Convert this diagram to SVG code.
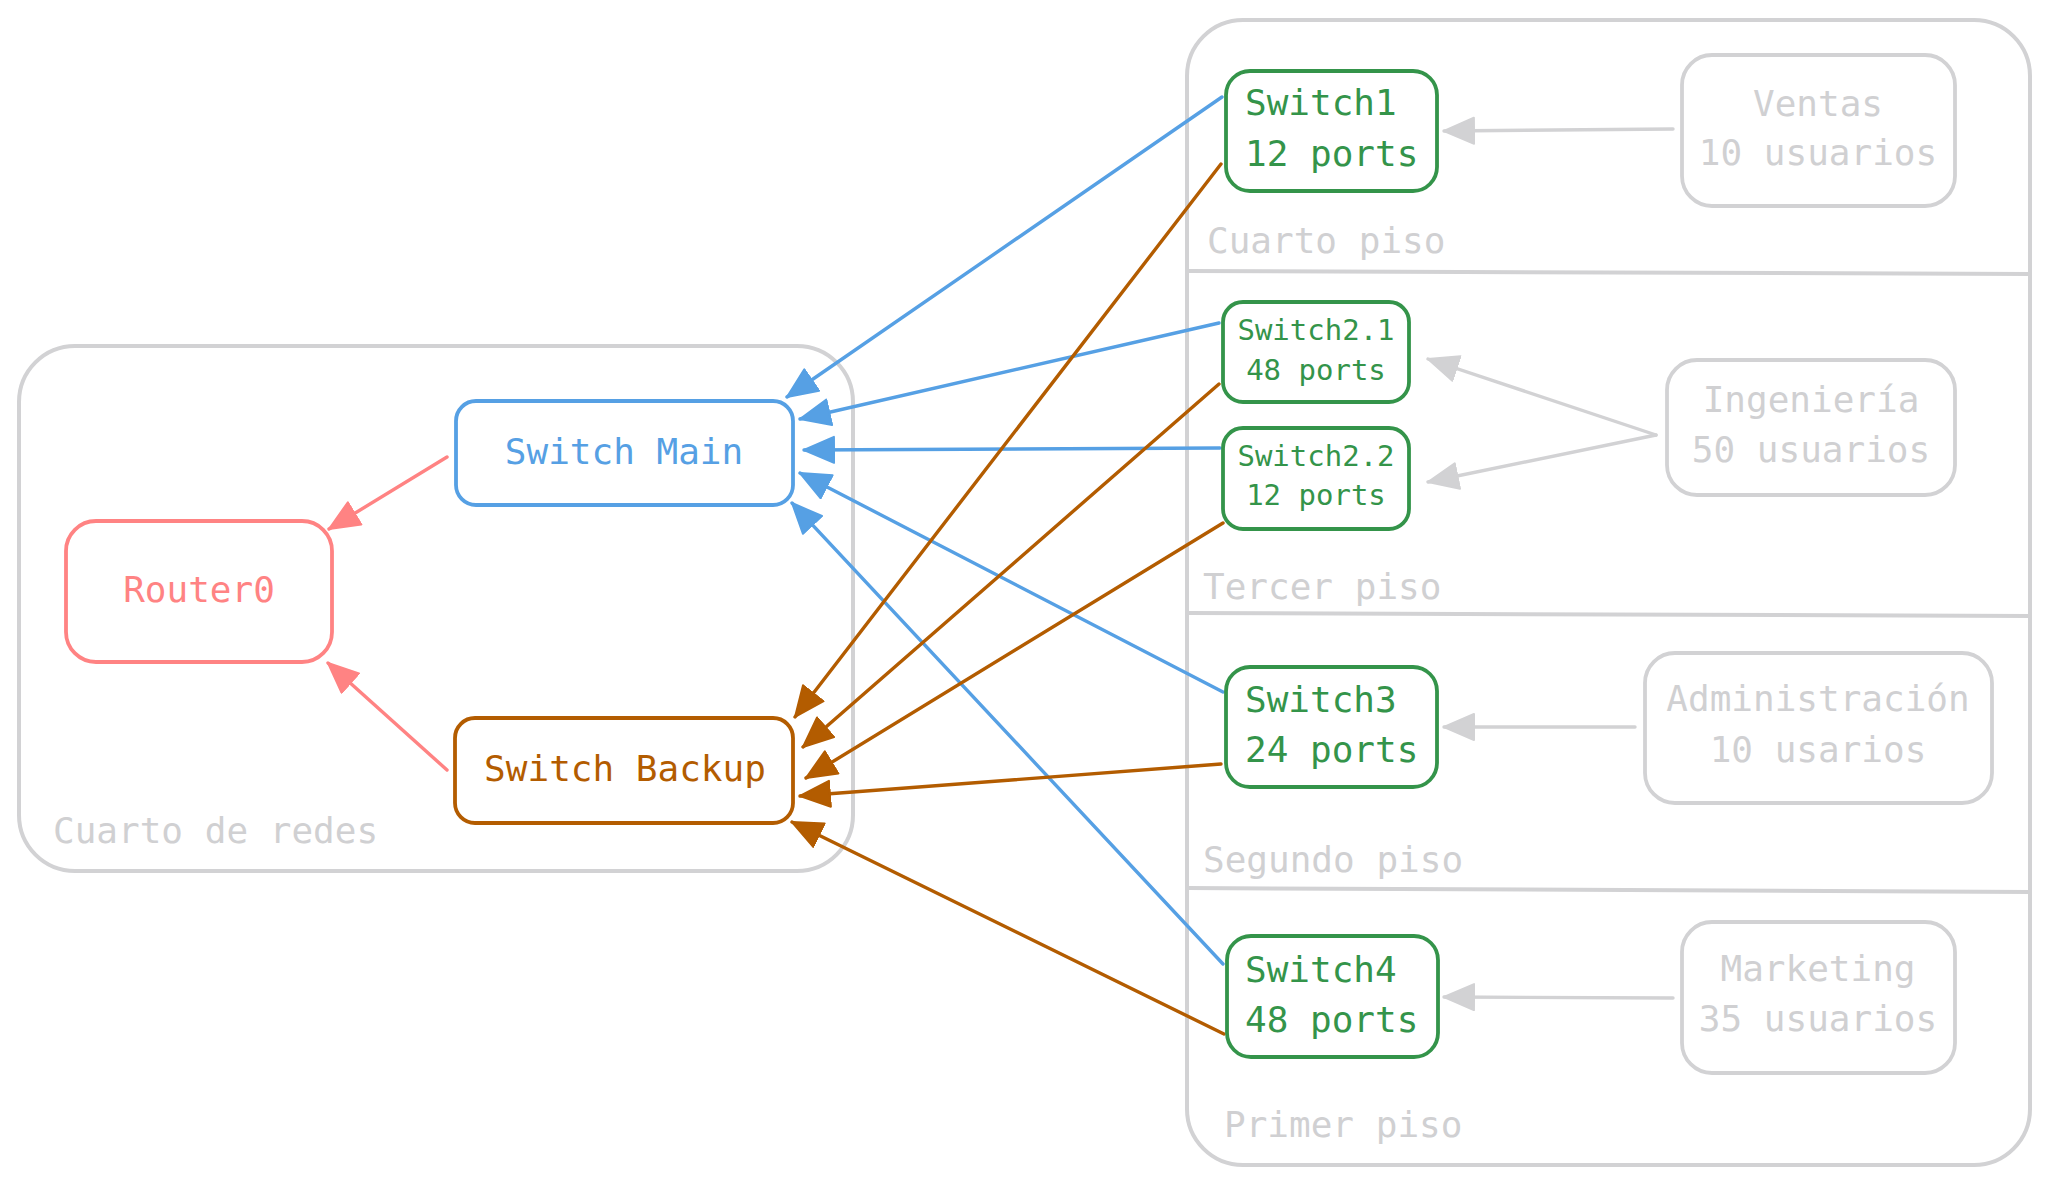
<svg xmlns="http://www.w3.org/2000/svg" width="2050" height="1183" viewBox="0 0 2050 1183">
<style>
text{font-family:"DejaVu Sans Mono","Liberation Mono",monospace;font-size:36px}
.frame{fill:none;stroke:#d2d2d4;stroke-width:4}
.lbl{fill:#d0d0d2}
.box{fill:#fff;stroke-width:3.8}
.g{stroke:#34944a}.gt{fill:#34944a}
.gr{stroke:#d2d2d4}.grt{fill:#d0d0d2;text-anchor:middle}
.b{stroke:#56a0e4}.bt{fill:#56a0e4}
.o{stroke:#b35c00}.ot{fill:#b35c00}
.r{stroke:#ff8383}.rt{fill:#ff8383}
.c{fill:none;stroke-width:3.4;stroke-linecap:round}
.sm{font-size:29px;text-anchor:middle}
.mid{text-anchor:middle}
</style>
<defs>
<marker id="ab" markerUnits="userSpaceOnUse" markerWidth="34" markerHeight="32" refX="31" refY="14" orient="auto"><path d="M1,1 L31,14 L1,27 Z" fill="#56a0e4" stroke="#56a0e4" stroke-width="2" stroke-linejoin="round"/></marker>
<marker id="ao" markerUnits="userSpaceOnUse" markerWidth="34" markerHeight="32" refX="31" refY="14" orient="auto"><path d="M1,1 L31,14 L1,27 Z" fill="#b35c00" stroke="#b35c00" stroke-width="2" stroke-linejoin="round"/></marker>
<marker id="ar" markerUnits="userSpaceOnUse" markerWidth="34" markerHeight="32" refX="31" refY="14" orient="auto"><path d="M1,1 L31,14 L1,27 Z" fill="#ff8383" stroke="#ff8383" stroke-width="2" stroke-linejoin="round"/></marker>
<marker id="ag" markerUnits="userSpaceOnUse" markerWidth="34" markerHeight="32" refX="31" refY="14" orient="auto"><path d="M1,1 L31,14 L1,27 Z" fill="#d2d2d4" stroke="#d2d2d4" stroke-width="2" stroke-linejoin="round"/></marker>
</defs>
<rect width="2050" height="1183" fill="#fff"/>

<g id="frame-cuarto-de-redes">
<rect class="frame" x="19" y="346" width="834" height="525" rx="56"/>
<text class="lbl" x="53" y="843">Cuarto de redes</text>
</g>

<g id="frame-pisos">
<rect class="frame" x="1187" y="20" width="843" height="1145" rx="56"/>
<line class="frame" x1="1187" y1="271" x2="2030" y2="274"/>
<line class="frame" x1="1187" y1="613" x2="2030" y2="616"/>
<line class="frame" x1="1187" y1="888" x2="2030" y2="892"/>
<text class="lbl" x="1207" y="253">Cuarto piso</text>
<text class="lbl" x="1203" y="599">Tercer piso</text>
<text class="lbl" x="1203" y="872">Segundo piso</text>
<text class="lbl" x="1224" y="1137">Primer piso</text>
</g>

<g id="connectors">
<line class="c r" x1="447" y1="457" x2="329" y2="529" marker-end="url(#ar)"/>
<line class="c r" x1="447" y1="770" x2="328" y2="663" marker-end="url(#ar)"/>
<line class="c b" x1="1222" y1="97" x2="787" y2="397" marker-end="url(#ab)"/>
<line class="c b" x1="1219" y1="323" x2="800" y2="419" marker-end="url(#ab)"/>
<line class="c b" x1="1220" y1="448" x2="804" y2="450" marker-end="url(#ab)"/>
<line class="c b" x1="1223" y1="692" x2="800" y2="473" marker-end="url(#ab)"/>
<line class="c b" x1="1223" y1="964" x2="792" y2="503" marker-end="url(#ab)"/>
<line class="c o" x1="1221" y1="164" x2="795" y2="717" marker-end="url(#ao)"/>
<line class="c o" x1="1219" y1="384" x2="803" y2="747" marker-end="url(#ao)"/>
<line class="c o" x1="1223" y1="523" x2="806" y2="778" marker-end="url(#ao)"/>
<line class="c o" x1="1221" y1="764" x2="800" y2="796" marker-end="url(#ao)"/>
<line class="c o" x1="1224" y1="1034" x2="792" y2="822" marker-end="url(#ao)"/>
<line class="c gr" x1="1673" y1="129" x2="1444" y2="131" marker-end="url(#ag)"/>
<line class="c gr" x1="1656" y1="435" x2="1428" y2="359" marker-end="url(#ag)"/>
<line class="c gr" x1="1656" y1="435" x2="1428" y2="482" marker-end="url(#ag)"/>
<line class="c gr" x1="1635" y1="727" x2="1444" y2="727" marker-end="url(#ag)"/>
<line class="c gr" x1="1673" y1="998" x2="1444" y2="997" marker-end="url(#ag)"/>
</g>

<g id="router0">
<rect class="box r" x="66" y="521" width="266" height="141" rx="30"/>
<text class="rt mid" x="199" y="602">Router0</text>
</g>
<g id="switch-main">
<rect class="box b" x="456" y="401" width="337" height="104" rx="20"/>
<text class="bt mid" x="624" y="464">Switch Main</text>
</g>
<g id="switch-backup">
<rect class="box o" x="455" y="718" width="338" height="105" rx="20"/>
<text class="ot mid" x="625" y="781">Switch Backup</text>
</g>

<g id="switch1">
<rect class="box g" x="1226" y="71" width="211" height="120" rx="24"/>
<text class="gt" x="1245" y="115">Switch1</text>
<text class="gt" x="1245" y="166">12 ports</text>
</g>
<g id="switch2-1">
<rect class="box g" x="1223" y="302" width="186" height="100" rx="20"/>
<text class="gt sm" x="1316" y="340">Switch2.1</text>
<text class="gt sm" x="1316" y="380">48 ports</text>
</g>
<g id="switch2-2">
<rect class="box g" x="1223" y="428" width="186" height="101" rx="20"/>
<text class="gt sm" x="1316" y="466">Switch2.2</text>
<text class="gt sm" x="1316" y="505">12 ports</text>
</g>
<g id="switch3">
<rect class="box g" x="1226" y="667" width="211" height="120" rx="24"/>
<text class="gt" x="1245" y="712">Switch3</text>
<text class="gt" x="1245" y="762">24 ports</text>
</g>
<g id="switch4">
<rect class="box g" x="1227" y="936" width="211" height="121" rx="24"/>
<text class="gt" x="1245" y="982">Switch4</text>
<text class="gt" x="1245" y="1032">48 ports</text>
</g>

<g id="ventas">
<rect class="box gr" x="1682" y="55" width="273" height="151" rx="30"/>
<text class="grt" x="1818" y="116">Ventas</text>
<text class="grt" x="1818" y="165">10 usuarios</text>
</g>
<g id="ingenieria">
<rect class="box gr" x="1667" y="360" width="288" height="135" rx="30"/>
<text class="grt" x="1811" y="412">Ingeniería</text>
<text class="grt" x="1811" y="462">50 usuarios</text>
</g>
<g id="administracion">
<rect class="box gr" x="1645" y="653" width="347" height="150" rx="30"/>
<text class="grt" x="1818" y="711">Administración</text>
<text class="grt" x="1818" y="762">10 usarios</text>
</g>
<g id="marketing">
<rect class="box gr" x="1682" y="922" width="273" height="151" rx="30"/>
<text class="grt" x="1818" y="981">Marketing</text>
<text class="grt" x="1818" y="1031">35 usuarios</text>
</g>
</svg>
